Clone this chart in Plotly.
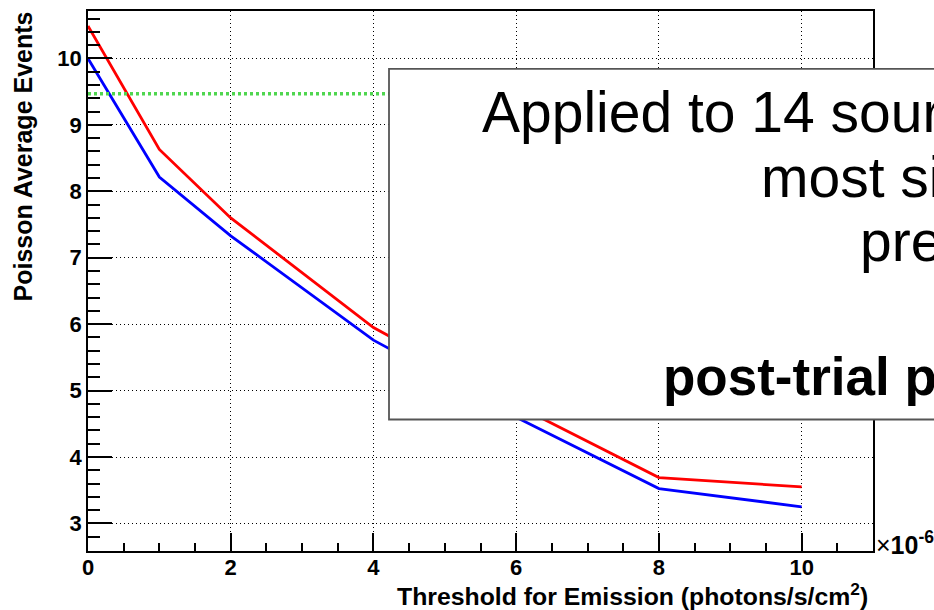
import plotly.graph_objects as go

# ---- data ----
threshold = [0, 1, 2, 4, 6, 8, 10]            # x 10^-6 photons/s/cm^2
red_events = [10.49, 8.63, 7.60, 5.95, 4.78, 3.69, 3.55]
blue_events = [10.00, 8.215, 7.33, 5.76, 4.60, 3.525, 3.25]
green_level = 9.47

x_tickvals = [0, 2, 4, 6, 8, 10]
y_tickvals = [3, 4, 5, 6, 7, 8, 9, 10]

x_title = "Threshold for Emission (photons/s/cm<sup>2</sup>)"
y_title = "Poisson Average Events"

box_lines = [
    ("Applied to 14 sources, the", False),
    ("most significant has a", False),
    ("pre-trial probability of", False),
    ("post-trial probability", True),
]

# ---- layout geometry (pixels) ----
W, H = 934, 610
L, R, T, B = 88, 61, 9, 59
PW, PH = W - L - R, H - T - B


def px(xp):
    return (xp - L) / PW


def py(yp):
    return 1 - (yp - T) / PH


fig = go.Figure()
fig.add_trace(go.Scatter(x=threshold, y=red_events, mode="lines",
                         line=dict(color="#ff0000", width=2.8), showlegend=False))
fig.add_trace(go.Scatter(x=threshold, y=blue_events, mode="lines",
                         line=dict(color="#0000ff", width=2.8), showlegend=False))

# green dotted level
fig.add_shape(type="line", xref="paper", x0=0, x1=1, yref="y", y0=green_level, y1=green_level,
              line=dict(color="#4fd64f", width=3.5, dash="3px,3px"), layer="above")

# text box
fig.add_shape(type="rect", xref="paper", yref="paper",
              x0=px(389), x1=px(1000), y0=py(419), y1=py(67),
              fillcolor="white", line=dict(color="#555555", width=1.8), layer="above")

lefts = [480, 759, 858, 661]
baselines = [131, 196, 260, 395]
for (txt, bold), xl, bl in zip(box_lines, lefts, baselines):
    size = 53 if bold else 57
    fig.add_annotation(xref="paper", yref="paper", x=px(xl), y=py(bl - 0.36 * size),
                       xanchor="left", yanchor="middle", showarrow=False, text=txt,
                       font=dict(family="Liberation Sans", size=size, color="black",
                                 weight="bold" if bold else "normal"))

# y title (ROOT style, right-aligned at top)
fig.add_annotation(xref="paper", yref="paper", x=px(23), y=py(155), textangle=-90,
                   xanchor="center", yanchor="middle", showarrow=False,
                   text=y_title,
                   font=dict(family="Liberation Sans", size=25, color="black", weight="bold"))

# x title (ROOT style, right-aligned at axis end)
fig.add_annotation(xref="paper", yref="paper", x=px(870), y=py(595),
                   xanchor="right", yanchor="middle", showarrow=False,
                   text=x_title,
                   font=dict(family="Liberation Sans", size=24.8, color="black", weight="bold"))

# x10^-6 exponent
fig.add_annotation(xref="paper", yref="paper", x=px(874), y=py(543),
                   xanchor="left", yanchor="middle", showarrow=False,
                   text="×<b>10<sup>-6</sup></b>",
                   font=dict(family="Liberation Sans", size=25, color="black"))

axis_common = dict(showline=True, linecolor="black", linewidth=1.5, mirror=True,
                   ticks="inside", tickcolor="black", tickwidth=1.5,
                   showgrid=True, gridcolor="black", gridwidth=1, griddash="1px,3px",
                   zeroline=False,
                   tickfont=dict(family="Liberation Sans", size=22, color="black", weight="bold"))

fig.update_xaxes(**axis_common, range=[0, 11], tickvals=x_tickvals, ticklen=18,
                 ticklabelstandoff=-4,
                 minor=dict(ticks="inside", ticklen=8, dtick=0.5, tickcolor="black",
                            tickwidth=1.5, showgrid=False))
fig.update_yaxes(**axis_common, range=[2.585, 10.715], tickvals=y_tickvals, ticklen=24,
                 minor=dict(ticks="inside", ticklen=12, dtick=0.2, tick0=0, tickcolor="black",
                            tickwidth=1.5, showgrid=False))

fig.update_layout(width=W, height=H, margin=dict(l=L, r=R, t=T, b=B, pad=0),
                  paper_bgcolor="white", plot_bgcolor="white")

fig.write_html("out.html")
